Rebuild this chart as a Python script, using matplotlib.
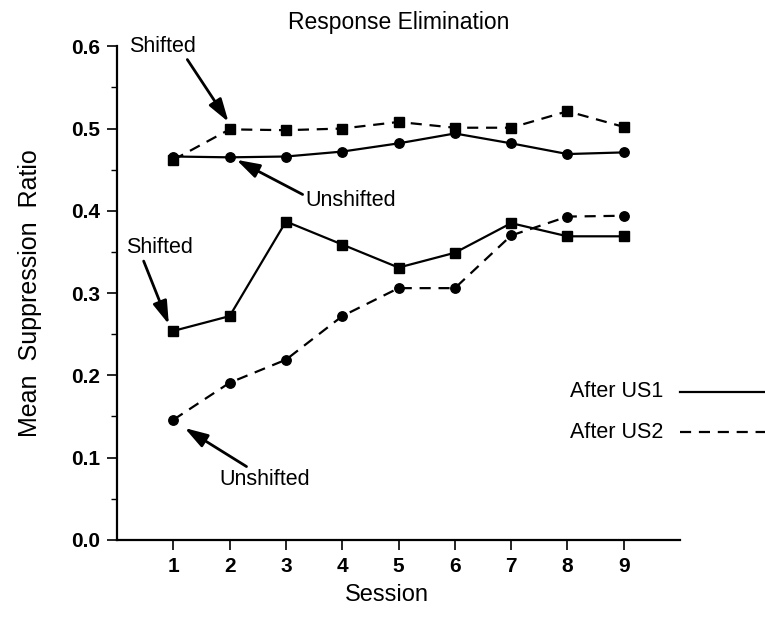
import numpy as np
import matplotlib
matplotlib.use("Agg")
import matplotlib.pyplot as plt

plt.rcParams['font.family'] = ['Liberation Sans', 'DejaVu Sans']

sessions = [1, 2, 3, 4, 5, 6, 7, 8, 9]

# After US1 (solid lines)
us1_unshifted = [0.466, 0.465, 0.466, 0.472, 0.482, 0.494, 0.482, 0.469, 0.471]
us1_shifted = [0.254, 0.272, 0.387, 0.359, 0.331, 0.349, 0.385, 0.369, 0.369]

# After US2 (dashed lines)
us2_shifted = [0.462, 0.499, 0.498, 0.500, 0.508, 0.501, 0.501, 0.521, 0.502]
us2_unshifted = [0.146, 0.191, 0.219, 0.272, 0.306, 0.306, 0.370, 0.393, 0.394]

yticks = [0.0, 0.1, 0.2, 0.3, 0.4, 0.5, 0.6]

fig = plt.figure(figsize=(7.65, 6.17), dpi=100)
ax = fig.add_axes([0.153, 0.125, 0.736, 0.8])

dash = (0, (5, 3.5))
ax.plot(sessions, us1_unshifted, '-', color='black', lw=1.6,
        marker='o', ms=6.8)
ax.plot(sessions, us1_shifted, '-', color='black', lw=1.6,
        marker='s', ms=6.8)
ax.plot(sessions, us2_shifted, color='black', lw=1.6, linestyle=dash,
        marker='s', ms=6.8)
ax.plot(sessions, us2_unshifted, color='black', lw=1.6, linestyle=dash,
        marker='o', ms=6.8)

ax.set_xlim(0, 10)
ax.set_ylim(0, 0.6)
ax.set_xticks(sessions)
ax.set_yticks(yticks)
ax.set_yticks(np.arange(0.05, 0.6, 0.1), minor=True)
ax.set_yticklabels([f"{v:.1f}" for v in yticks], fontweight='bold')
ax.set_xticklabels([str(s) for s in sessions], fontweight='bold')
ax.tick_params(axis='both', which='major', direction='out', length=7,
               width=1.2, labelsize=15)
ax.tick_params(axis='x', pad=5)
ax.tick_params(axis='y', pad=5)
ax.tick_params(axis='y', which='minor', direction='out', length=4, width=1)
for side in ('top', 'right'):
    ax.spines[side].set_visible(False)
for side in ('left', 'bottom'):
    ax.spines[side].set_linewidth(1.6)

ax.set_xlabel("Session", fontsize=17)
ax.xaxis.set_label_coords(0.48, -0.09)
ax.set_ylabel("Mean  Suppression  Ratio", fontsize=18)
ax.yaxis.set_label_coords(-0.133, 0.5)
fig.text(0.5216, 0.964, "Response Elimination", ha='center', va='center',
         fontsize=16.5)

arrow = dict(arrowstyle='-|>,head_length=0.9,head_width=0.28',
             color='black', lw=2, shrinkA=0, shrinkB=0)
ax.annotate("Shifted", xy=(1.98, 0.508), xytext=(0.8, 0.6),
            ha='center', va='center', fontsize=15.5,
            arrowprops=dict(arrow, relpos=(0.85, 0.0)))
ax.annotate("Unshifted", xy=(2.12, 0.462), xytext=(4.15, 0.413),
            ha='center', va='center', fontsize=15.5,
            arrowprops=dict(arrow, relpos=(0.0, 0.7)))
ax.annotate("Shifted", xy=(0.92, 0.262), xytext=(0.75, 0.355),
            ha='center', va='center', fontsize=15.5,
            arrowprops=dict(arrow, relpos=(0.25, 0.0)))
ax.annotate("Unshifted", xy=(1.2, 0.136), xytext=(2.62, 0.073),
            ha='center', va='center', fontsize=15.5,
            arrowprops=dict(arrow, relpos=(0.35, 1.0)))

# line key on the right, running past the end of the axis
ax.text(9.7, 0.18, "After US1", ha='right', va='center', fontsize=15.5)
ax.text(9.7, 0.131, "After US2", ha='right', va='center', fontsize=15.5)
ax.plot([10.0, 11.6], [0.18, 0.18], '-', color='black', lw=1.6,
        clip_on=False)
ax.plot([10.0, 11.6], [0.131, 0.131], color='black', lw=1.6,
        linestyle=dash, clip_on=False)

fig.savefig("out.png", dpi=100)
